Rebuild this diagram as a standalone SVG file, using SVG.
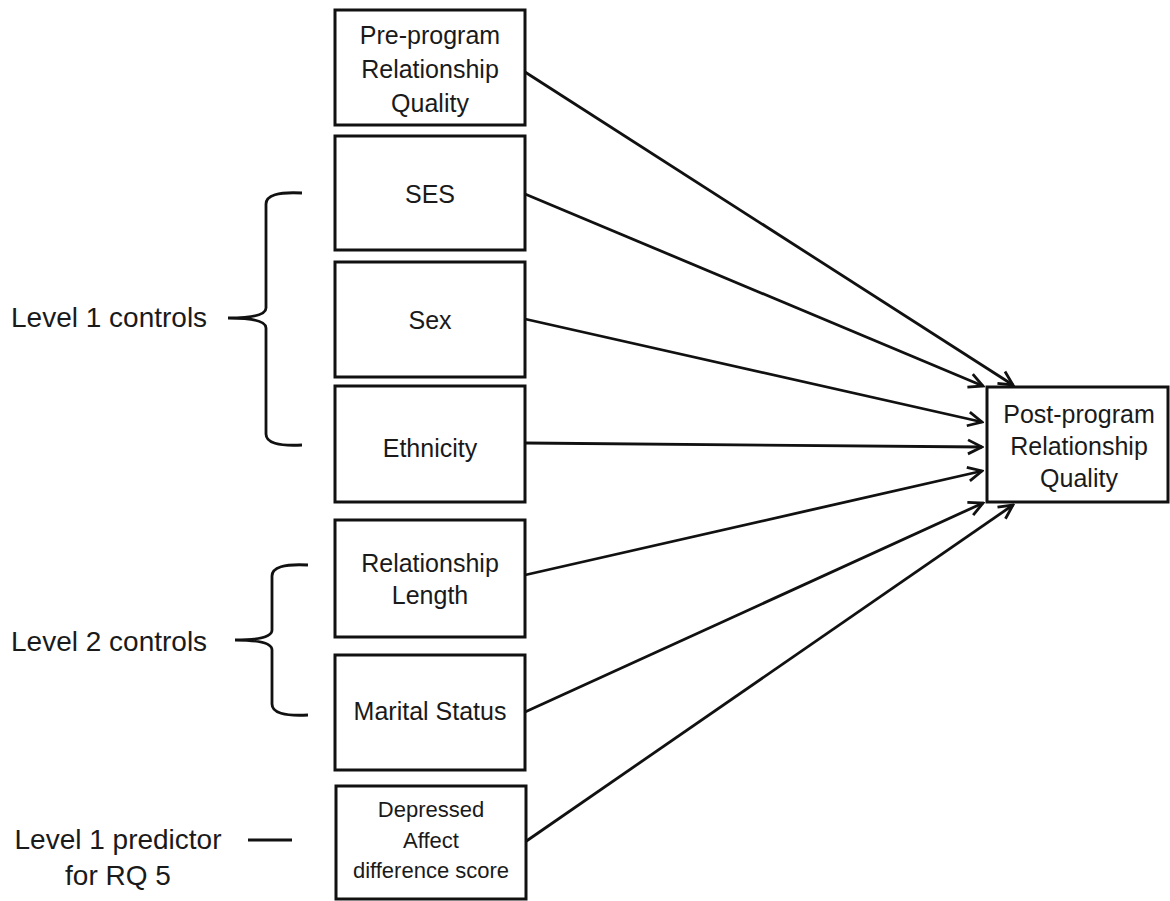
<svg xmlns="http://www.w3.org/2000/svg" width="1170" height="901" viewBox="0 0 1170 901">
  <style>
    .box { fill: #ffffff; stroke: #111111; stroke-width: 3; }
    .t { font-family: "Liberation Sans", Arial, sans-serif; font-size: 25px; fill: #1a1a1a; text-anchor: middle; }
    .ts { font-family: "Liberation Sans", Arial, sans-serif; font-size: 22px; fill: #1a1a1a; text-anchor: middle; }
    .lbl { font-family: "Liberation Sans", Arial, sans-serif; font-size: 28px; fill: #1a1a1a; }
    .conn { fill: none; stroke: #111111; stroke-width: 2.8; }
    .brace { fill: none; stroke: #111111; stroke-width: 2.8; }
  </style>
  <defs>
    <marker id="arrow" markerUnits="userSpaceOnUse" markerWidth="20" markerHeight="20" viewBox="0 0 20 20" refX="18" refY="10" orient="auto">
      <path d="M4,3 L18,10 L4,17" fill="none" stroke="#111111" stroke-width="2.8"/>
    </marker>
  </defs>
  <rect width="1170" height="901" fill="#ffffff"/>

  <g id="connectors">
    <line class="conn" x1="525" y1="72" x2="1013" y2="385" marker-end="url(#arrow)"/>
    <line class="conn" x1="525" y1="194" x2="983" y2="386" marker-end="url(#arrow)"/>
    <line class="conn" x1="525" y1="319" x2="982" y2="422" marker-end="url(#arrow)"/>
    <line class="conn" x1="525" y1="443" x2="982" y2="447" marker-end="url(#arrow)"/>
    <line class="conn" x1="525" y1="575" x2="982" y2="471" marker-end="url(#arrow)"/>
    <line class="conn" x1="525" y1="712" x2="983" y2="503" marker-end="url(#arrow)"/>
    <line class="conn" x1="525" y1="842" x2="1013" y2="505" marker-end="url(#arrow)"/>
  </g>

  <g id="node-pre">
    <rect class="box" x="335" y="10" width="190" height="115"/>
    <text class="t" x="430" y="44">Pre-program</text>
    <text class="t" x="430" y="78">Relationship</text>
    <text class="t" x="430" y="112">Quality</text>
  </g>
  <g id="node-ses">
    <rect class="box" x="335" y="136" width="190" height="114"/>
    <text class="t" x="430" y="203">SES</text>
  </g>
  <g id="node-sex">
    <rect class="box" x="335" y="262" width="190" height="115"/>
    <text class="t" x="430" y="329">Sex</text>
  </g>
  <g id="node-ethnicity">
    <rect class="box" x="335" y="386" width="190" height="116"/>
    <text class="t" x="430" y="457">Ethnicity</text>
  </g>
  <g id="node-rellength">
    <rect class="box" x="335" y="520" width="190" height="117"/>
    <text class="t" x="430" y="572">Relationship</text>
    <text class="t" x="430" y="604">Length</text>
  </g>
  <g id="node-marital">
    <rect class="box" x="335" y="655" width="190" height="115"/>
    <text class="t" x="430" y="720">Marital Status</text>
  </g>
  <g id="node-depressed">
    <rect class="box" x="336" y="786" width="190" height="113"/>
    <text class="ts" x="431" y="817">Depressed</text>
    <text class="ts" x="431" y="848">Affect</text>
    <text class="ts" x="431" y="878">difference score</text>
  </g>
  <g id="node-post">
    <rect class="box" x="987" y="387" width="181" height="115"/>
    <text class="t" x="1079" y="423">Post-program</text>
    <text class="t" x="1079" y="455">Relationship</text>
    <text class="t" x="1079" y="487">Quality</text>
  </g>

  <g id="label-level1">
    <text class="lbl" x="11" y="327">Level 1 controls</text>
    <path class="brace" d="M302,193 Q266,191 266,204 L266,308 Q266,318 228,318 Q266,318 266,328 L266,434 Q266,447 302,445"/>
  </g>
  <g id="label-level2">
    <text class="lbl" x="11" y="651">Level 2 controls</text>
    <path class="brace" d="M308,565 Q272,563 272,576 L272,630 Q272,640 235,640 Q272,640 272,650 L272,704 Q272,717 308,715"/>
  </g>
  <g id="label-predictor">
    <text class="lbl" x="118" y="849" text-anchor="middle">Level 1 predictor</text>
    <text class="lbl" x="118" y="885" text-anchor="middle">for RQ 5</text>
    <line class="brace" x1="248" y1="840" x2="292" y2="840" stroke-width="3.5"/>
  </g>
</svg>
